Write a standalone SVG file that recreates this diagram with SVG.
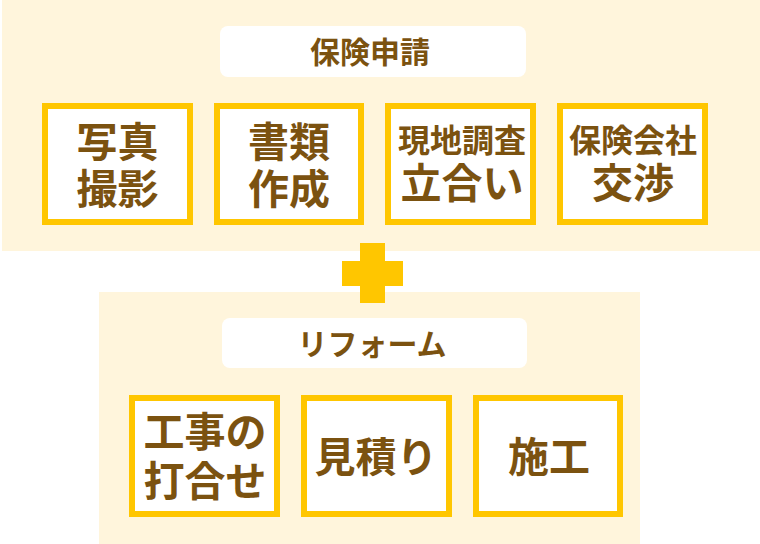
<svg xmlns="http://www.w3.org/2000/svg" width="760" height="544" viewBox="0 0 760 544">
<style>
.panel{fill:#FFF5DC}
.pill{fill:#FFFFFF}
.box{fill:#FFFFFF;stroke:#FFC600;stroke-width:6}
.plus{fill:#FFC600}
text{font-family:"Noto Sans CJK JP","Noto Sans CJK SC",sans-serif;font-weight:700;fill:#7B5210;text-anchor:middle}
.lbl{font-size:30px}
.big{font-size:41px}
.mid{font-size:32px}
</style>
<g id="panel-hoken">
<rect class="panel" x="2" y="0" width="758" height="251"/>
<rect class="pill" x="220" y="26" width="306" height="51" rx="8"/>
<text class="lbl" x="370" y="63">保険申請</text>
</g>
<g id="panel-reform">
<rect class="panel" x="99" y="292" width="541" height="252"/>
<rect class="pill" x="222" y="318" width="305" height="50" rx="8"/>
<text class="lbl" x="372" y="355">リフォーム</text>
</g>
<g id="plus">
<rect class="plus" x="360" y="243" width="25" height="60"/>
<rect class="plus" x="342" y="261" width="61" height="25"/>
</g>
<g id="node-shashin">
<rect class="box" x="45" y="106" width="145" height="116"/>
<text class="big" x="117.5" y="157">写真</text>
<text class="big" x="117.5" y="204">撮影</text>
</g>
<g id="node-shorui">
<rect class="box" x="217" y="106" width="144" height="116"/>
<text class="big" x="289" y="157">書類</text>
<text class="big" x="289" y="204">作成</text>
</g>
<g id="node-genchi">
<rect class="box" x="388" y="106" width="145" height="116"/>
<text class="mid" x="462" y="152">現地調査</text>
<text class="big" x="462" y="198">立合い</text>
</g>
<g id="node-kosho">
<rect class="box" x="560" y="106" width="145" height="116"/>
<text class="mid" x="633" y="152">保険会社</text>
<text class="big" x="633" y="198">交渉</text>
</g>
<g id="node-uchiawase">
<rect class="box" x="132" y="398" width="145" height="116"/>
<text class="big" x="205" y="447">工事の</text>
<text class="big" x="205" y="496">打合せ</text>
</g>
<g id="node-mitsumori">
<rect class="box" x="304" y="398" width="145" height="116"/>
<text class="big" x="376" y="472">見積り</text>
</g>
<g id="node-seko">
<rect class="box" x="476" y="398" width="144" height="116"/>
<text class="big" x="549" y="472">施工</text>
</g>
<g id="connectors"/>
</svg>
